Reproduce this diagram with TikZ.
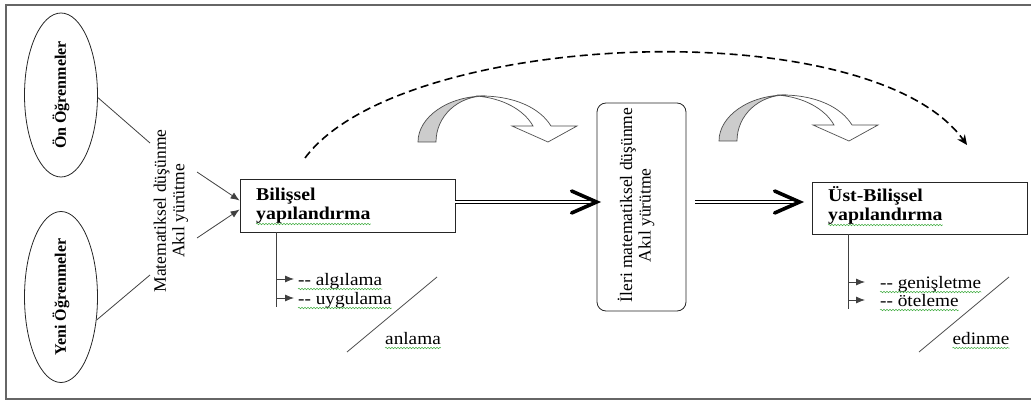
\documentclass[tikz,border=0pt]{standalone}
\usepackage{fontspec}
\setmainfont{Liberation Serif}
\newfontfamily\wfont[FakeStretch=1.1]{Liberation Serif}
\usetikzlibrary{arrows.meta,shapes.geometric,calc,decorations.pathmorphing}
\definecolor{wavyg}{RGB}{70,175,70}
\begin{document}
\begin{tikzpicture}[x=1pt,y=-1pt,
  frame/.style={draw=black!60, line width=1.3pt},
  ell/.style={draw=black!85, ellipse, line width=0.8pt, inner sep=0pt, font=\bfseries\fontsize{16}{17}\selectfont},
  boxn/.style={draw=black!85, line width=0.8pt, rectangle, minimum width=215pt},
  boxt/.style={anchor=base west, inner sep=0pt, font=\wfont\bfseries\fontsize{18}{19.5}\selectfont},
  rlabel/.style={rotate=90, inner sep=0pt, font=\fontsize{17.5}{18.5}\selectfont},
  brlabel/.style={anchor=base west, inner sep=0pt, font=\wfont\fontsize{17.5}{19}\selectfont},
  thinl/.style={draw=black!75, line width=0.8pt},
  tipa/.style={thinl, -{Latex[length=9pt,width=7pt]}},
  dbl/.style={draw=black, double=white, double distance=2pt, line width=0.9pt},
  chev/.style={draw=black, line width=3.6pt, line cap=round, line join=miter},
  dashc/.style={draw=black, line width=1.6pt, dash pattern=on 8pt off 4.5pt, -{Stealth[length=10pt,width=9pt]}},
  wavy/.style={draw=wavyg, line width=0.5pt, decorate, decoration={snake, segment length=3pt, amplitude=0.8pt}},
  curvarrow/.pic={
    \filldraw[fill=black!20, draw=black!70, line width=0.7pt]
      (0,0) .. controls (0,-25) and (30,-46) .. (67,-46)
      .. controls (40,-46) and (18,-26) .. (18,0) -- cycle;
    \filldraw[fill=white, draw=black!70, line width=0.7pt]
      (58,-46) .. controls (96,-47) and (122,-34) .. (133,-16)
      -- (159,-16) -- (130,0) -- (94,-16) -- (115,-16)
      .. controls (106,-32) and (85,-44) .. (58,-46) -- cycle;
  }
]
\useasboundingbox (0,0) rectangle (1031,406);
% frame
\draw[frame] (1031,5) -- (6,5) -- (6,399) -- (1031,399);

% ellipses
\node[ell, minimum width=73pt, minimum height=164pt] (e1) at (61,95) {\rotatebox{90}{Ön Öğrenmeler}};
\node[ell, minimum width=73pt, minimum height=171pt] (e2) at (61,297) {\rotatebox{90}{Yeni Öğrenmeler}};

% rotated label
\node[rlabel, align=center] (mat) at (171,211) {Matematiksel düşünme\\Akıl yürütme};

\coordinate (c1) at (150,143);
\coordinate (c2) at (150,275);
\draw[thinl] (e1.-4) -- (c1);
\draw[thinl] (e2.-33) -- (c2);

% box 1
\node[boxn, minimum height=53pt] (b1) at (347.5,205.5) {};
\node[boxt] (b1a) at (256,201) {Bilişsel};
\node[boxt] (b1b) at (256,220) {yapılandırma};
\draw[wavy] ($(b1b.base west)+(0,4)$) -- ($(b1b.base east)+(0,4)$);
\coordinate (a1s) at (197,172);
\coordinate (a2s) at (197,238);
\draw[tipa] (a1s) -- ($(b1.west)+(0,-5)$);
\draw[tipa] (a2s) -- ($(b1.west)+(0,4)$);

% middle rounded box
\node[draw=black!85, line width=0.8pt, rounded corners=9pt, minimum width=89pt, minimum height=208pt] (mid) at (641.5,207) {};
\node[rlabel, align=left] (midt) at (636,205) {İleri matematiksel düşünme\\\hspace*{40pt}Akıl yürütme};

% box 2
\node[boxn, minimum height=52pt] (u) at (919.5,208) {};
\node[boxt] (ua) at (828,202) {Üst-Bilişsel};
\node[boxt] (ub) at (828,221) {yapılandırma};
\draw[wavy] ($(ub.base west)+(0,4)$) -- ($(ub.base east)+(0,4)$);

% double arrows
\coordinate (lvl) at (0,202);
\coordinate (t1) at (mid.west |- lvl);
\draw[dbl] (b1.east |- lvl) -- ($(t1)+(-4,0)$);
\draw[chev] ($(t1)+(-25,-11)$) -- (t1) -- ($(t1)+(-25,11)$);
\coordinate (t2) at ($(u.west |- lvl)+(-12,0)$);
\draw[dbl] ($(mid.east |- lvl)+(9,0)$) -- ($(t2)+(-4,0)$);
\draw[chev] ($(t2)+(-25,-11)$) -- (t2) -- ($(t2)+(-25,11)$);

% curved block arrows
\pic at (418,142) {curvarrow};
\pic at (719,141) {curvarrow};

% dashed arc
\coordinate (ds) at (305,158);
\coordinate (de) at (967,145);
\draw[dashc] (ds) .. controls (400,30) and (870,10) .. (de);

% left branch
\coordinate (v1top) at (276,0);
\coordinate (v1) at (276,279);
\coordinate (v2) at (276,298);
\draw[thinl] (b1.south -| v1top) -- (276,307);
\node[brlabel] (alg) at (298,285) {-{}- algılama};
\node[brlabel] (uyg) at (298,304) {-{}- uygulama};
\draw[wavy] ($(alg.base west)+(0,4)$) -- ($(alg.base east)+(0,4)$);
\draw[wavy] ($(uyg.base west)+(0,4)$) -- ($(uyg.base east)+(0,4)$);
\draw[tipa] (v1) -- ($(v1 -| alg.west)+(-4,0)$);
\draw[tipa] (v2) -- ($(v2 -| uyg.west)+(-4,0)$);
\draw[thinl, draw=black!70] (347,352) -- (437,277);
\node[anchor=base, inner sep=0pt, font=\wfont\fontsize{17.5}{19}\selectfont] (anl) at (413,344) {anlama};
\draw[wavy] ($(anl.base west)+(0,4)$) -- ($(anl.base east)+(0,4)$);

% right branch
\coordinate (w1top) at (848,0);
\coordinate (w1) at (848,282);
\coordinate (w2) at (848,300);
\draw[thinl] (u.south -| w1top) -- (848,309);
\node[brlabel] (gen) at (880,288) {-{}- genişletme};
\node[brlabel] (ote) at (880,306) {-{}- öteleme};
\draw[wavy] ($(gen.base west)+(0,4)$) -- ($(gen.base east)+(0,4)$);
\draw[wavy] ($(ote.base west)+(0,4)$) -- ($(ote.base east)+(0,4)$);
\draw[tipa] (w1) -- ($(w1 -| gen.west)+(-15,0)$);
\draw[tipa] (w2) -- ($(w2 -| ote.west)+(-15,0)$);
\draw[thinl, draw=black!70] (919,352) -- (1009,277);
\node[anchor=base, inner sep=0pt, font=\wfont\fontsize{17.5}{19}\selectfont] (edn) at (981,344) {edinme};
\draw[wavy] ($(edn.base west)+(0,4)$) -- ($(edn.base east)+(0,4)$);
\end{tikzpicture}
\end{document}
